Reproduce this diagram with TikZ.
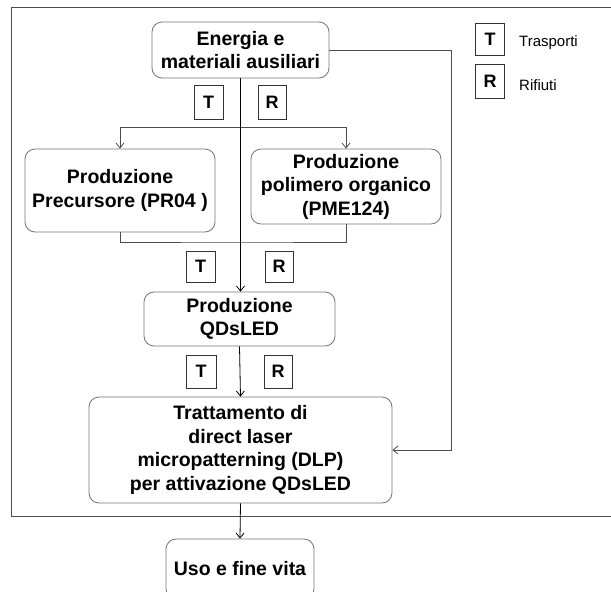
\documentclass[tikz,border=0pt]{standalone}
\usepackage{fontspec}
\setmainfont{Liberation Sans}
\usetikzlibrary{arrows.meta}
\begin{document}
\begin{tikzpicture}[x=1pt,y=-1pt,
  procbox/.style={draw=black!55, line width=0.8pt, rounded corners=10pt, align=center,
    font=\fontsize{19.5}{23.5}\selectfont\bfseries, inner sep=0pt},
  tagbox/.style={draw=black!80, line width=0.7pt, inner sep=0pt,
    font=\fontsize{18}{20}\selectfont\bfseries},
  legtext/.style={anchor=west, font=\fontsize{15}{17}\selectfont, inner sep=0pt},
  conn/.style={draw=black!70, line width=0.8pt},
  arr/.style={conn, -{Straight Barb[length=5pt,width=8pt]}}]
\useasboundingbox (0,0) rectangle (611,592);
\clip (0,0) rectangle (611,592);
% outer frame (its right side runs beyond the page)
\draw[black!70, line width=0.8pt] (11,7) rectangle (640,516);

% process boxes
\node[procbox, minimum width=177pt, minimum height=56pt] (en) at (240.5,50) {Energia e\\materiali ausiliari};
\node[procbox, minimum width=190pt, minimum height=83pt] (pr) at (120,190.5) {Produzione\\Precursore (PR04 )};
\node[procbox, minimum width=190pt, minimum height=75pt] (po) at (346,186.5) {Produzione\\polimero organico\\(PME124)};
\node[procbox, minimum width=191pt, minimum height=54pt] (qd) at (239.5,319) {Produzione\\QDsLED};
\node[procbox, minimum width=303pt, minimum height=106pt] (tr) at (240.5,450) {Trattamento di\\direct laser\\micropatterning (DLP)\\per attivazione QDsLED};
\node[procbox, minimum width=148pt, minimum height=60pt] (uso) at (240,569) {Uso e fine vita};

% transport / waste tags
\node[tagbox, minimum width=29pt, minimum height=34pt] (t1) at (208.5,102) {T};
\node[tagbox, minimum width=28pt, minimum height=34pt] (r1) at (272,102) {R};
\node[tagbox, minimum width=29pt, minimum height=31pt] (t2) at (200.5,266.5) {T};
\node[tagbox, minimum width=28pt, minimum height=31pt] (r2) at (279,266.5) {R};
\node[tagbox, minimum width=30pt, minimum height=33pt] (t3) at (201,371.5) {T};
\node[tagbox, minimum width=28pt, minimum height=33pt] (r3) at (278,371.5) {R};

% legend
\node[tagbox, minimum width=29pt, minimum height=32pt] (lt) at (490,39) {T};
\node[tagbox, minimum width=29pt, minimum height=34pt] (lr) at (490,81) {R};
\node[legtext] (ltt) at (519,43) {Trasporti};
\node[legtext] (lrt) at (519,85) {Rifiuti};

% connectors
\coordinate (split) at (240.5,127);
\coordinate (merge) at (240.5,242);
\coordinate (side) at (451,50);
\draw[conn] (split -| pr.north) -- (split -| po.north);
\draw[arr] (split -| pr.north) -- (pr.north);
\draw[arr] (split -| po.north) -- (po.north);
\draw[conn] (pr.south) |- (merge) -| (po.south);
\draw[arr, draw=black] (en.south) -- (en.south |- qd.north);
\draw[arr, draw=black] (qd.south) -- (tr.north);
\draw[arr] (en.east) -- (side) |- (tr.east);
\draw[arr, draw=black] (tr.south) -- (uso.north);
\end{tikzpicture}
\end{document}
